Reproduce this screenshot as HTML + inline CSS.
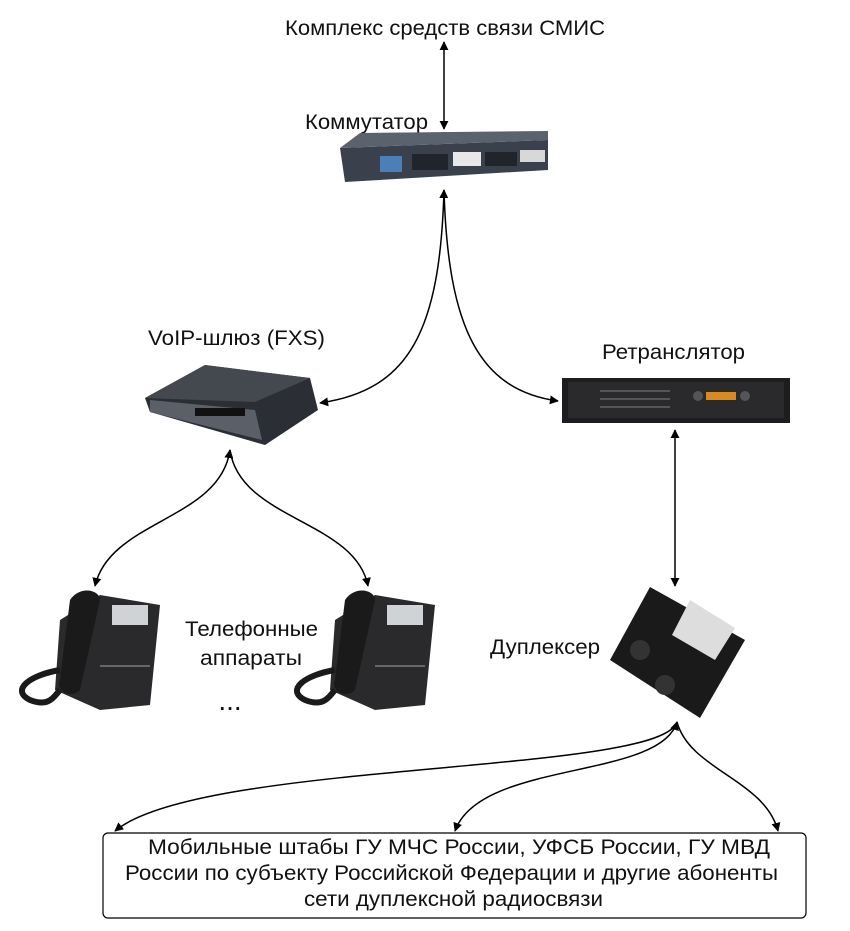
<!DOCTYPE html>
<html><head><meta charset="utf-8"><style>
html,body{margin:0;padding:0;background:#fff;}
svg{display:block;}
text{font-family:"Liberation Sans",sans-serif;fill:#111;}
</style></head><body>
<svg width="850" height="931" viewBox="0 0 850 931" xmlns="http://www.w3.org/2000/svg">
<defs>
<marker id="a" viewBox="0 0 10 10" refX="9" refY="5" markerWidth="9" markerHeight="9" orient="auto-start-reverse" markerUnits="userSpaceOnUse">
<path d="M0,0 L10,5 L0,10 z" fill="#000"/></marker>
</defs>
<text x="285" y="35" font-size="21" textLength="320" lengthAdjust="spacingAndGlyphs">Комплекс средств связи СМИС</text>
<line x1="444" y1="42" x2="444" y2="129" stroke="#000" stroke-width="1.5" marker-start="url(#a)" marker-end="url(#a)"/>
<text x="305" y="129" font-size="21" textLength="123" lengthAdjust="spacingAndGlyphs">Коммутатор</text>
<!-- switch -->
<polygon points="340,148 548,140 548,170 345,182" fill="#3a414c"/>
<polygon points="340,148 360,133 548,131 548,140" fill="#5a626e"/>
<rect x="380" y="156" width="22" height="16" fill="#4a7fb8"/>
<rect x="412" y="154" width="36" height="16" fill="#20252c"/>
<rect x="453" y="152" width="28" height="14" fill="#e8e8e8"/>
<rect x="485" y="152" width="32" height="14" fill="#20252c"/>
<rect x="520" y="150" width="25" height="12" fill="#d8d8d8"/>
<path d="M444,190 C440,330 410,390 320,403" fill="none" stroke="#000" stroke-width="1.5" marker-start="url(#a)" marker-end="url(#a)"/>
<path d="M444,190 C448,330 480,390 558,401" fill="none" stroke="#000" stroke-width="1.5" marker-end="url(#a)"/>
<text x="148" y="345" font-size="21" textLength="177" lengthAdjust="spacingAndGlyphs">VoIP-шлюз (FXS)</text>
<!-- voip gateway -->
<polygon points="145,398 205,365 310,378 318,410 265,445 150,412" fill="#2b2f35"/>
<polygon points="145,398 205,365 310,378 255,402" fill="#44494f"/>
<polygon points="150,400 255,410 262,440 150,412" fill="#5b6068"/>
<rect x="195" y="408" width="50" height="8" fill="#111"/>
<text x="602" y="359" font-size="21" textLength="143" lengthAdjust="spacingAndGlyphs">Ретранслятор</text>
<!-- retranslator -->
<rect x="562" y="378" width="228" height="45" fill="#1d1d1f"/>
<rect x="568" y="382" width="216" height="36" fill="#2a2a2c"/>
<rect x="600" y="390" width="70" height="2" fill="#555"/>
<rect x="600" y="398" width="70" height="2" fill="#555"/>
<rect x="600" y="406" width="70" height="2" fill="#555"/>
<rect x="706" y="392" width="30" height="8" fill="#d88a20"/>
<circle cx="698" cy="396" r="5" fill="#555"/><circle cx="745" cy="396" r="5" fill="#555"/>
<line x1="675" y1="430" x2="675" y2="586" stroke="#000" stroke-width="1.5" marker-start="url(#a)" marker-end="url(#a)"/>
<text x="490" y="654" font-size="21" textLength="110" lengthAdjust="spacingAndGlyphs">Дуплексер</text>
<!-- duplexer -->
<polygon points="650,587 745,640 700,718 610,660" fill="#1a1a1a"/>
<polygon points="690,600 735,628 715,660 672,635" fill="#ddd"/>
<circle cx="640" cy="650" r="10" fill="#333"/><circle cx="665" cy="685" r="10" fill="#333"/>
<!-- phones -->
<g id="ph">
<polygon points="60,620 100,595 160,605 150,705 100,710 55,690" fill="#2a2a2c"/>
<path d="M70,600 C80,585 100,590 100,600 L80,690 C70,700 55,690 60,680 Z" fill="#1a1a1a"/>
<rect x="112" y="605" width="36" height="20" fill="#cfd3d6"/>
<rect x="100" y="665" width="50" height="2" fill="#666"/>
<path d="M60,670 C30,675 10,690 30,700 C50,708 55,695 60,690" fill="none" stroke="#1a1a1a" stroke-width="6"/>
</g>
<use href="#ph" transform="translate(275,0)"/>
<text x="185" y="636" font-size="21" textLength="133" lengthAdjust="spacingAndGlyphs">Телефонные</text>
<text x="200" y="665" font-size="21" textLength="102" lengthAdjust="spacingAndGlyphs">аппараты</text>
<text x="230" y="710" font-size="28" text-anchor="middle">...</text>
<path d="M230,450 C220,520 110,520 95,586" fill="none" stroke="#000" stroke-width="1.5" marker-start="url(#a)" marker-end="url(#a)"/>
<path d="M230,450 C240,520 355,520 368,586" fill="none" stroke="#000" stroke-width="1.5" marker-end="url(#a)"/>
<path d="M677,722 C660,775 200,760 115,831" fill="none" stroke="#000" stroke-width="1.5" marker-start="url(#a)" marker-end="url(#a)"/>
<path d="M677,722 C660,780 480,760 455,831" fill="none" stroke="#000" stroke-width="1.5" marker-end="url(#a)"/>
<path d="M677,722 C690,770 765,780 778,831" fill="none" stroke="#000" stroke-width="1.5" marker-end="url(#a)"/>
<rect x="103" y="833" width="703" height="85" rx="5" fill="#fff" stroke="#000" stroke-width="1.2"/>
<text x="148" y="854" font-size="21" textLength="622" lengthAdjust="spacingAndGlyphs">Мобильные штабы ГУ МЧС России, УФСБ России, ГУ МВД</text>
<text x="125" y="880" font-size="21" textLength="653" lengthAdjust="spacingAndGlyphs">России по субъекту Российской Федерации и другие абоненты</text>
<text x="304" y="906" font-size="21" textLength="299" lengthAdjust="spacingAndGlyphs">сети дуплексной радиосвязи</text>
</svg>
</body></html>
